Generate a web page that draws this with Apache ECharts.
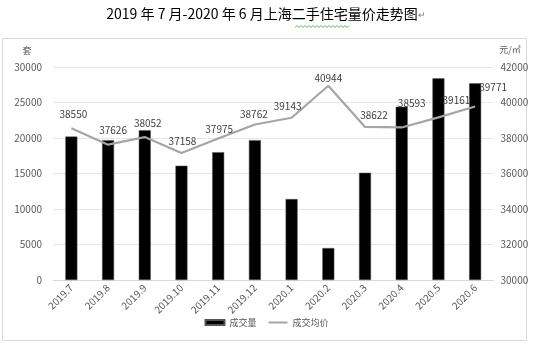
<!DOCTYPE html>
<html><head><meta charset="utf-8">
<script src="https://cdn.jsdelivr.net/npm/echarts@6/dist/echarts.min.js"></script>
<style>html,body{margin:0;padding:0;background:#fff}#c{width:533px;height:345px}</style>
</head><body><div id="c"></div>
<script>
// ---- data ----
const categories = ['2019.7','2019.8','2019.9','2019.10','2019.11','2019.12','2020.1','2020.2','2020.3','2020.4','2020.5','2020.6'];
const volume = [20200,19700,21100,16100,18000,19700,11400,4500,15100,24400,28400,27700];
const avgPrice = [38550,37626,38052,37158,37975,38762,39143,40944,38622,38593,39161,39771];
const seriesNames = ['成交量','成交均价'];
const titleText = '2019 年 7 月-2020 年 6 月上海二手住宅量价走势图';
const leftUnit = '套';
const rightUnit = '元/㎡';

// label placement tweaks (style only, px offsets of label centre from point)
const labelOffsets = [[2,-15],[5,-15],[3,-15],[1,-13],[1,-10],[-1,-11],[-4,-13],[0,-9],[9,-13],[10,-25],[18,-18],[18,-20]];

const font = '"Noto Sans CJK SC","Noto Sans",sans-serif';
const chart = echarts.init(document.getElementById('c'), null, {renderer:'canvas'});

const lineData = avgPrice.map((v,i)=>({
  value: v,
  label: {offset: [labelOffsets[i][0], labelOffsets[i][1] + 6]}
}));

// wavy underline decoration
const wave = [];
for (let x = 295, k = 0; x <= 349; x += 2, k++) wave.push([x, k % 2 ? 25.5 : 27.5]);

const plain = v => String(v);

chart.setOption({
  animation: false,
  textStyle: {fontFamily: font},
  graphic: [
    {type:'rect', shape:{x:2.5, y:38.5, width:524, height:302}, style:{fill:'none', stroke:'#d9d9d9', lineWidth:1}, silent:true},
    {type:'text', x:262, y:14, style:{text: titleText, font:'14px ' + font, fill:'#000', align:'center', verticalAlign:'middle'}},
    {type:'text', x:422, y:15, style:{text:'↵', font:'9px ' + font, fill:'#7f7f7f', align:'center', verticalAlign:'middle'}},
    {type:'polyline', shape:{points: wave}, style:{stroke:'#3a9a3a', lineWidth:0.8, fill:'none'}},
    {type:'text', x:27, y:51, style:{text:leftUnit, font:'9px ' + font, fill:'#595959', align:'center', verticalAlign:'middle'}},
    {type:'text', x:510, y:50, style:{text:rightUnit, font:'9px ' + font, fill:'#595959', align:'center', verticalAlign:'middle'}}
  ],
  grid: {left:53, right:39.5, top:67, bottom:65},
  legend: {
    bottom: 13, left: 'center', itemGap: 12, itemWidth: 19, itemHeight: 5,
    textStyle: {fontSize: 9, color:'#595959', fontFamily: font},
    data: [{name: seriesNames[0], icon:'rect'},
           {name: seriesNames[1], icon:'path://M0,0L19,0L19,2L0,2Z', itemHeight: 2}]
  },
  xAxis: {
    type:'category', data: categories,
    axisLine:{lineStyle:{color:'#d9d9d9'}},
    axisTick:{show:false},
    axisLabel:{rotate:45, fontSize:10, color:'#595959', margin:6, interval:0}
  },
  yAxis: [
    {type:'value', min:0, max:30000, interval:5000,
     axisLine:{show:false}, axisTick:{show:false},
     splitLine:{lineStyle:{color:'#e6e6e6'}},
     axisLabel:{fontSize:10, color:'#595959', margin:11, formatter: plain}},
    {type:'value', min:30000, max:42000, interval:2000,
     axisLine:{show:false}, axisTick:{show:false}, splitLine:{show:false},
     axisLabel:{fontSize:10, color:'#595959', margin:7, formatter: plain}}
  ],
  series: [
    {name: seriesNames[0], type:'bar', data: volume, barWidth:12,
     itemStyle:{color:'#000', borderColor:'#555', borderWidth:0.5}},
    {name: seriesNames[1], type:'line', yAxisIndex:1, data: lineData,
     symbol:'circle', symbolSize:0.01, showSymbol:true,
     lineStyle:{color:'#a5a5a5', width:2.2}, itemStyle:{color:'#a5a5a5'},
     label:{show:true, position:'top', distance:0, fontSize:10, color:'#404040', formatter: p => String(p.value)}}
  ]
});
</script></body></html>
